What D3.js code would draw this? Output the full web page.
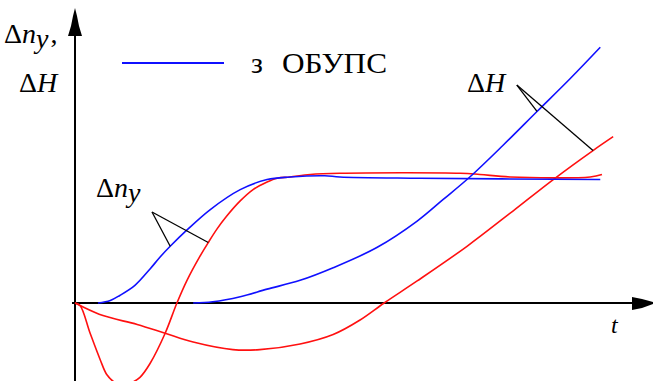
<!DOCTYPE html>
<html>
<head>
<meta charset="utf-8">
<script src="https://cdn.jsdelivr.net/npm/d3@7"></script>
<style>
  html, body { margin: 0; padding: 0; background: #fff; }
  svg { display: block; }
</style>
</head>
<body>
<svg id="chart" width="653" height="381"></svg>
<script>
// Time samples (t) and values for each response curve.
// Blue: with ОБУПС, red: without it. Δn_y — speed deviation, ΔH — level deviation.
const nyBlueT = [0.41, 0.63, 0.80, 1.07, 1.34, 1.52, 1.70, 2.00, 2.41, 2.95, 3.43, 3.84, 4.46, 4.73, 6.16, 9.38];
const nyBlueV = [0, 0.02, 0.06, 0.14, 0.27, 0.365, 0.45, 0.58, 0.74, 0.90, 0.98, 1.00, 1.01, 1.00, 0.99, 0.98];

const nyRedT = [0, 0.09, 0.27, 0.45, 0.57, 0.71, 0.86, 1.02, 1.16, 1.34, 1.61, 1.82, 2.00, 2.23, 2.38, 2.54, 2.71, 2.95, 3.18, 3.43, 3.61, 3.84, 4.20, 4.73, 6.88, 7.23, 7.77, 9.20, 9.41];
const nyRedV = [0, -0.02, -0.24, -0.45, -0.57, -0.63, -0.65, -0.63, -0.59, -0.48, -0.24, 0, 0.18, 0.37, 0.48, 0.59, 0.69, 0.81, 0.90, 0.96, 0.99, 1.00, 1.02, 1.03, 1.03, 1.02, 1.00, 1.00, 1.02];

const hBlueT = [2.11, 2.46, 2.95, 3.43, 4.02, 4.61, 5.39, 6.11, 6.57, 7.05, 7.64, 8.25, 8.84, 9.38];
const hBlueV = [0, 0.01, 0.05, 0.11, 0.18, 0.28, 0.44, 0.65, 0.82, 1.00, 1.25, 1.52, 1.78, 2.03];

const hRedT = [0, 0.09, 0.50, 1.11, 1.61, 2.11, 2.82, 3.30, 4.02, 4.61, 5.09, 5.52, 6.11, 7.00, 7.82, 8.54, 9.25, 9.61];
const hRedV = [0, -0.02, -0.10, -0.17, -0.24, -0.31, -0.37, -0.37, -0.325, -0.25, -0.135, 0, 0.175, 0.45, 0.73, 0.98, 1.21, 1.32];

// Callout anchors: apex of each pointer and the sample on each curve it points to.
const nyApex = [1.375, 0.722];
const nyTargets = [[1.70, 0.45], [2.38, 0.48]];
const hApex = [7.89, 1.73];
const hTargets = [[8.25, 1.52], [9.25, 1.21]];

const legendText = "ОБУПС";
const legendPrefix = "з";

const serif = "Liberation Serif";

const svg = d3.select("#chart");
const x = d3.scaleLinear().domain([0, 10]).range([75, 635]);
const y = d3.scaleLinear().domain([0, 1]).range([303, 177]);

const zip = (ts, vs) => ts.map((t, i) => [t, vs[i]]);
const line = d3.line().x(d => x(d[0])).y(d => y(d[1])).curve(d3.curveCatmullRom.alpha(0.5));

const blue = "#1010ff", red = "#ff1010";

// Axes with arrow heads
svg.append("line").attr("x1", x(0)).attr("x2", x(0)).attr("y1", 30).attr("y2", 381)
  .attr("stroke", "#000").attr("stroke-width", 2);
svg.append("line").attr("x1", x(0) - 3).attr("x2", 640).attr("y1", y(0)).attr("y2", y(0))
  .attr("stroke", "#000").attr("stroke-width", 2);
const ax = x(0), ay = y(0);
svg.append("path")
  .attr("d", `M${ax},8 L${ax + 2},16 L${ax + 4},26 L${ax + 7},36 L${ax - 7},36 L${ax - 4},26 L${ax - 2},16 Z`)
  .attr("fill", "#000");
svg.append("path")
  .attr("d", `M632,${ay - 6} L642,${ay - 4} L653,${ay - 1} L653,${ay + 1} L642,${ay + 5} L632,${ay + 7} Z`)
  .attr("fill", "#000");

// Curves
[[hRedT, hRedV, red], [nyRedT, nyRedV, red], [hBlueT, hBlueV, blue], [nyBlueT, nyBlueV, blue]]
  .forEach(([ts, vs, c]) => {
    svg.append("path").datum(zip(ts, vs)).attr("d", line)
      .attr("fill", "none").attr("stroke", c).attr("stroke-width", 1.6);
  });

// Callout pointers
function pointer(apex, targets) {
  targets.forEach(tg => {
    svg.append("line")
      .attr("x1", x(apex[0])).attr("y1", y(apex[1]))
      .attr("x2", x(tg[0])).attr("y2", y(tg[1]))
      .attr("stroke", "#000").attr("stroke-width", 1.3);
  });
}
pointer(nyApex, nyTargets);
pointer(hApex, hTargets);

function label(px, py, size) {
  return svg.append("text").attr("x", px).attr("y", py)
    .attr("font-family", serif).attr("font-size", size).attr("fill", "#000");
}

// Δn_y label near the speed curves
const t1 = label(96, 197, 28);
t1.append("tspan").text("Δ");
t1.append("tspan").attr("font-style", "italic").text("n");
t1.append("tspan").attr("font-style", "italic").attr("dy", 5).text("y");

// ΔH label near the level curves
const t2 = label(467, 92, 28);
t2.append("tspan").text("Δ");
t2.append("tspan").attr("font-style", "italic").text("H");

// Axis titles
const ty = label(4, 43, 28);
ty.append("tspan").text("Δ");
ty.append("tspan").attr("font-style", "italic").text("n");
ty.append("tspan").attr("font-style", "italic").attr("dy", 5).text("y");
ty.append("tspan").attr("dy", -5).attr("dx", 2).text(",");

const th = label(19, 92, 28);
th.append("tspan").text("Δ");
th.append("tspan").attr("font-style", "italic").text("H");

label(611, 333, 24).attr("font-style", "italic").text("t");

// Legend
svg.append("line").attr("x1", 122).attr("x2", 224).attr("y1", 63).attr("y2", 63)
  .attr("stroke", blue).attr("stroke-width", 2);
label(251, 73, 30).text(legendPrefix);
label(282, 73, 30).attr("textLength", 105).attr("lengthAdjust", "spacingAndGlyphs").text(legendText);
</script>
</body>
</html>
